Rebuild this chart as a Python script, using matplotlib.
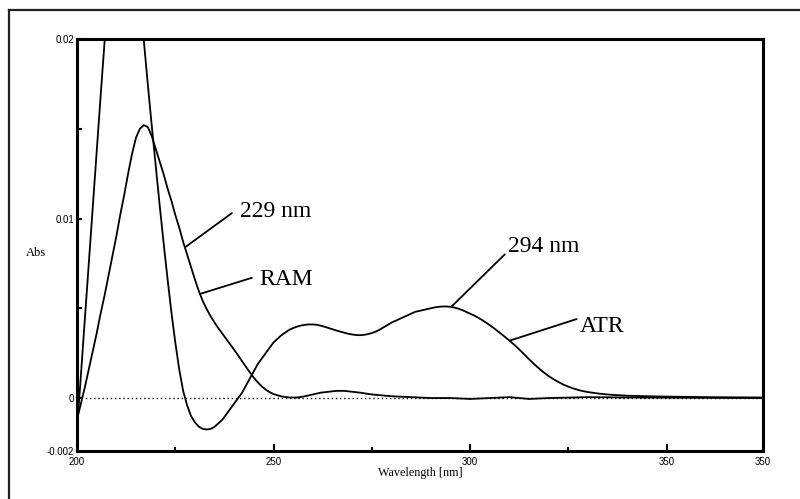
import matplotlib
matplotlib.use("Agg")
import matplotlib.pyplot as plt
from matplotlib.lines import Line2D

# ---- data (wavelength in nm, absorbance) ----
atr_nm = list(range(200, 325)) + [326, 328, 330, 333, 336, 340, 345, 350, 360, 374.5]
atr_abs = [
    -0.0018, 0.0013, 0.0044, 0.0075, 0.0106, 0.0137, 0.0168, 0.0198, 0.0225, 0.0251,   # 200-209
    0.0272, 0.0287, 0.0294, 0.0290, 0.0275, 0.0252, 0.0226, 0.0199, 0.0175, 0.0152,     # 210-219
    0.0130, 0.0108, 0.0087, 0.0067, 0.0048, 0.0031, 0.0016, 0.0004, -0.0004, -0.0010,   # 220-229
    -0.00135, -0.0016, -0.00172, -0.00175, -0.00172, -0.0016, -0.0014, -0.0012, -0.0009, -0.0006,  # 230-239
    -0.0003, 0.0000, 0.0003, 0.0007, 0.0011, 0.0015, 0.0019, 0.0022, 0.0025, 0.0028,   # 240-249
    0.0031, 0.0033, 0.0035, 0.00365, 0.0038, 0.0039, 0.00398, 0.00404, 0.00408, 0.0041,  # 250-259
    0.0041, 0.00408, 0.00403, 0.00397, 0.0039, 0.00383, 0.00376, 0.0037, 0.00364, 0.00358,  # 260-269
    0.00354, 0.00351, 0.0035, 0.00352, 0.00356, 0.00362, 0.0037, 0.00381, 0.00394, 0.00407,  # 270-279
    0.0042, 0.0043, 0.0044, 0.0045, 0.0046, 0.0047, 0.0048, 0.00485, 0.0049, 0.00495,  # 280-289
    0.005, 0.00505, 0.00508, 0.0051, 0.0051, 0.00508, 0.00504, 0.00498, 0.0049, 0.0048,  # 290-299
    0.0047, 0.0046, 0.00448, 0.00435, 0.00421, 0.00406, 0.0039, 0.00373, 0.00356, 0.00338,  # 300-309
    0.0032, 0.00301, 0.00281, 0.0026, 0.00238, 0.00216, 0.00195, 0.00175, 0.00156, 0.00138,  # 310-319
    0.00122, 0.00108, 0.00095, 0.00083, 0.00072,                                             # 320-324
    0.00055, 0.00042, 0.00033, 0.00024, 0.00018, 0.00013, 0.0001, 0.00008, 0.00005, 0.00003,
]

ram_nm = list(range(200, 251)) + [252, 254, 256, 258, 260, 262, 264, 266, 268, 270, 272, 275,
                                  280, 285, 290, 295, 300, 305, 310, 315, 320, 330, 340, 350, 374.5]
ram_abs = [
    -0.0012, -0.0003, 0.0006, 0.0016, 0.0026, 0.0036, 0.0047, 0.0057, 0.0068, 0.0079,  # 200-209
    0.0090, 0.0102, 0.0113, 0.0125, 0.0136, 0.0145, 0.0150, 0.0152, 0.0151, 0.0146,    # 210-219
    0.0139, 0.0132, 0.0125, 0.0117, 0.0110, 0.0102, 0.0095, 0.0087, 0.0080, 0.0073,    # 220-229
    0.0066, 0.00595, 0.0054, 0.00495, 0.00455, 0.0042, 0.00388, 0.00358, 0.00328, 0.00298,  # 230-239
    0.00268, 0.00237, 0.00205, 0.00173, 0.00142, 0.00113, 0.00087, 0.00065, 0.00047, 0.00033,  # 240-249
    0.00022,                                                                             # 250
    0.00009, 0.00003, 0.00003, 0.0001, 0.0002, 0.0003, 0.00035, 0.0004, 0.0004, 0.00035, 0.0003, 0.0002,
    0.0001, 0.00005, 0.0, 0.0, -0.00005, 0.0, 0.00005, -0.00005, 0.0, 0.00005, 0.00003, 0.00002, 0.0,
]

x_ticks = [200, 250, 300, 350, 374.5]
x_tick_labels = ["200", "250", "300", "350", "350"]
x_minor = [225, 275, 325]
y_ticks = [-0.00295, 0, 0.01, 0.02]
y_tick_labels = ["-0.002", "0", "0.01", "0.02"]
y_minor = [0.005, 0.015]

serif = "Liberation Serif"
sans = "Liberation Sans"

fig = plt.figure(figsize=(8.0, 4.99), dpi=100)
ax = fig.add_axes([77 / 800, 1 - 451 / 499, (763 - 77) / 800, (451 - 39) / 499])

ax.plot(atr_nm, atr_abs, color="black", lw=1.3, solid_joinstyle="round")
ax.plot(ram_nm, ram_abs, color="black", lw=1.3, solid_joinstyle="round")
ax.axhline(0, color="black", lw=1.0, ls=(0, (1, 2)))

ax.set_xlim(200, 374.5)
ax.set_ylim(-0.00295, 0.02)

ax.set_xticks(x_ticks)
ax.set_xticklabels(x_tick_labels, fontname=sans, fontsize=7)
ax.set_xticks(x_minor, minor=True)
ax.set_yticks(y_ticks)
ax.set_yticklabels(y_tick_labels, fontname=sans, fontsize=7)
ax.set_yticks(y_minor, minor=True)
ax.tick_params(axis="x", which="major", direction="in", length=5, width=1.5, pad=4)
ax.tick_params(axis="x", which="minor", direction="in", length=3, width=1.5)
ax.tick_params(axis="y", which="both", direction="in", length=3.5, width=1.5, pad=2)
for s in ax.spines.values():
    s.set_linewidth(2.2)

ax.set_xlabel("Wavelength [nm]", fontname=serif, fontsize=8.7, labelpad=0)
ax.xaxis.set_label_coords(0.501, -0.04)
ax.set_ylabel("Abs", fontname=serif, fontsize=9, rotation=0, ha="center", va="center")
ax.yaxis.set_label_coords(-0.06, 0.48)

# annotations (leader lines + labels)
lead = dict(arrowstyle="-", shrinkA=0, shrinkB=0, lw=1.3, color="black")
notes = [
    ("229 nm", (227.5, 0.0084), (239.4, 0.0103), (241.4, 0.01008)),
    ("RAM", (231.3, 0.0058), (244.5, 0.0067), (246.3, 0.0063)),
    ("294 nm", (295.3, 0.0051), (308.8, 0.0080), (309.6, 0.00813)),
    ("ATR", (310.1, 0.0032), (327.1, 0.0044), (327.9, 0.0037)),
]
for label, pt, end, tpos in notes:
    ax.annotate("", xy=pt, xytext=end, arrowprops=lead)
    ax.text(tpos[0], tpos[1], label, fontname=serif, fontsize=17,
            ha="left", va="baseline")

# outer frame (left and top edges)
fig.add_artist(Line2D([9 / 800, 9 / 800], [0, 1 - 10 / 499], transform=fig.transFigure,
                      color="#222222", lw=1.6))
fig.add_artist(Line2D([9 / 800, 1], [1 - 10 / 499, 1 - 10 / 499], transform=fig.transFigure,
                      color="#222222", lw=1.6))

fig.savefig("out.png", dpi=100)
